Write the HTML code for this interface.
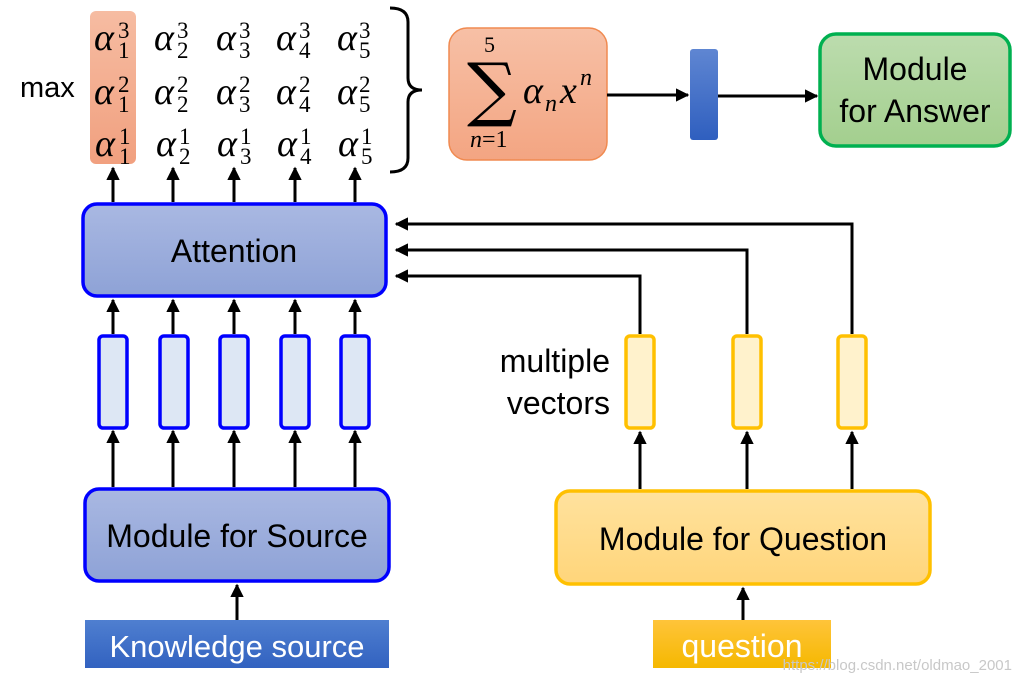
<!DOCTYPE html>
<html><head><meta charset="utf-8"><style>
html,body{margin:0;padding:0;background:#fff;}
svg{display:block;}
.t{font-family:"Liberation Sans",sans-serif;}
.a{font-family:"Liberation Serif",serif;font-style:italic;font-size:38px;}
.s{font-family:"Liberation Serif",serif;font-size:23px;}
</style></head><body>
<svg width="1021" height="686" viewBox="0 0 1021 686" xmlns="http://www.w3.org/2000/svg">
<defs>
<marker id="ar" viewBox="0 0 10 10" refX="9" refY="5" markerWidth="4.5" markerHeight="4.5" orient="auto"><path d="M0,0 L10,5 L0,10 z" fill="#000"/></marker>
<linearGradient id="gb" x1="0" y1="0" x2="0" y2="1"><stop offset="0" stop-color="#a9b8e2"/><stop offset="1" stop-color="#8ea2d6"/></linearGradient>
<linearGradient id="go" x1="0" y1="0" x2="0" y2="1"><stop offset="0" stop-color="#f7c0a6"/><stop offset="1" stop-color="#f3a582"/></linearGradient>
<linearGradient id="gg" x1="0" y1="0" x2="0" y2="1"><stop offset="0" stop-color="#bcdcae"/><stop offset="1" stop-color="#a3cf8e"/></linearGradient>
<linearGradient id="gy" x1="0" y1="0" x2="0" y2="1"><stop offset="0" stop-color="#ffe29e"/><stop offset="1" stop-color="#ffd57a"/></linearGradient>
<linearGradient id="gk" x1="0" y1="0" x2="0" y2="1"><stop offset="0" stop-color="#4f7fd0"/><stop offset="1" stop-color="#3262c0"/></linearGradient>
<linearGradient id="gq" x1="0" y1="0" x2="0" y2="1"><stop offset="0" stop-color="#ffc43a"/><stop offset="1" stop-color="#f5b800"/></linearGradient>
<linearGradient id="gbar" x1="0" y1="0" x2="0" y2="1"><stop offset="0" stop-color="#5f86d2"/><stop offset="1" stop-color="#2f5fbf"/></linearGradient>
<linearGradient id="gh" x1="0" y1="0" x2="0" y2="1"><stop offset="0" stop-color="#f6bca2"/><stop offset="1" stop-color="#f1a07f"/></linearGradient>
</defs>

<rect x="90" y="11" width="46" height="153" rx="6" fill="url(#gh)"/>
<text class="t" x="20" y="97" font-size="29">max</text>

<g class="a">
<text x="94" y="50">α</text><text x="154" y="50">α</text><text x="216" y="50">α</text><text x="276" y="50">α</text><text x="337" y="50">α</text>
<text x="94" y="104">α</text><text x="154" y="104">α</text><text x="216" y="104">α</text><text x="276" y="104">α</text><text x="337" y="104">α</text>
<text x="95" y="156">α</text><text x="156" y="156">α</text><text x="217" y="156">α</text><text x="277" y="156">α</text><text x="338" y="156">α</text>
</g>
<g class="s">
<text x="118" y="38">3</text><text x="177" y="38">3</text><text x="239" y="38">3</text><text x="299" y="38">3</text><text x="359" y="38">3</text>
<text x="118" y="58">1</text><text x="177" y="58">2</text><text x="239" y="58">3</text><text x="299" y="58">4</text><text x="359" y="58">5</text>
<text x="118" y="92">2</text><text x="177" y="92">2</text><text x="239" y="92">2</text><text x="299" y="92">2</text><text x="359" y="92">2</text>
<text x="118" y="112">1</text><text x="177" y="112">2</text><text x="239" y="112">3</text><text x="299" y="112">4</text><text x="359" y="112">5</text>
<text x="119" y="144">1</text><text x="179" y="144">1</text><text x="240" y="144">1</text><text x="300" y="144">1</text><text x="361" y="144">1</text>
<text x="119" y="164">1</text><text x="179" y="164">2</text><text x="240" y="164">3</text><text x="300" y="164">4</text><text x="361" y="164">5</text>
</g>
<path d="M390,8 Q408,8 408,22 L408,78 Q408,90 422,90 Q408,90 408,102 L408,158 Q408,172 390,172" fill="none" stroke="#000" stroke-width="3"/>

<rect x="449" y="28" width="158" height="132" rx="18" fill="url(#go)" stroke="#f08a50" stroke-width="1.5"/>
<text x="484" y="52" font-family="Liberation Serif,serif" font-size="22">5</text>
<text x="467" y="113" font-family="DejaVu Serif,serif" font-size="70">∑</text>
<text x="470" y="147" font-family="Liberation Serif,serif" font-style="italic" font-size="24">n<tspan font-style="normal">=1</tspan></text>
<text x="523" y="103" font-family="Liberation Serif,serif" font-style="italic" font-size="38">α</text>
<text x="545" y="111" font-family="Liberation Serif,serif" font-style="italic" font-size="24">n</text>
<text x="560" y="103" font-family="Liberation Serif,serif" font-style="italic" font-size="38">x</text>
<text x="580" y="85" font-family="Liberation Serif,serif" font-style="italic" font-size="24">n</text>

<line x1="607" y1="95" x2="688" y2="95" stroke="#000" stroke-width="3" marker-end="url(#ar)"/>
<rect x="690" y="49" width="28" height="91" rx="3" fill="url(#gbar)"/>
<line x1="718" y1="96" x2="817" y2="96" stroke="#000" stroke-width="3" marker-end="url(#ar)"/>
<rect x="820" y="34" width="190" height="112" rx="16" fill="url(#gg)" stroke="#00b050" stroke-width="3.5"/>
<text class="t" x="915" y="80" font-size="32" text-anchor="middle">Module</text>
<text class="t" x="915" y="122" font-size="32" text-anchor="middle">for Answer</text>

<g stroke="#000" stroke-width="3" marker-end="url(#ar)">
<line x1="113" y1="202" x2="113" y2="168"/>
<line x1="173" y1="202" x2="173" y2="168"/>
<line x1="234" y1="202" x2="234" y2="168"/>
<line x1="295" y1="202" x2="295" y2="168"/>
<line x1="355" y1="202" x2="355" y2="168"/>
</g>

<rect x="83" y="204" width="303" height="92" rx="14" fill="url(#gb)" stroke="#0000ff" stroke-width="3.5"/>
<text class="t" x="234" y="262" font-size="32" text-anchor="middle">Attention</text>

<g fill="#dde7f4" stroke="#0000ff" stroke-width="3.5">
<rect x="99" y="336" width="28" height="92" rx="4"/>
<rect x="160" y="336" width="28" height="92" rx="4"/>
<rect x="220" y="336" width="28" height="92" rx="4"/>
<rect x="281" y="336" width="28" height="92" rx="4"/>
<rect x="341" y="336" width="28" height="92" rx="4"/>
</g>
<g stroke="#000" stroke-width="3" marker-end="url(#ar)">
<line x1="113" y1="334" x2="113" y2="300"/>
<line x1="173" y1="334" x2="173" y2="300"/>
<line x1="234" y1="334" x2="234" y2="300"/>
<line x1="295" y1="334" x2="295" y2="300"/>
<line x1="355" y1="334" x2="355" y2="300"/>
<line x1="113" y1="487" x2="113" y2="431"/>
<line x1="173" y1="487" x2="173" y2="431"/>
<line x1="234" y1="487" x2="234" y2="431"/>
<line x1="295" y1="487" x2="295" y2="431"/>
<line x1="355" y1="487" x2="355" y2="431"/>
<line x1="237" y1="620" x2="237" y2="585"/>
<line x1="743" y1="620" x2="743" y2="588"/>
<line x1="640" y1="489" x2="640" y2="432"/>
<line x1="747" y1="489" x2="747" y2="432"/>
<line x1="852" y1="489" x2="852" y2="432"/>
</g>

<rect x="85" y="489" width="304" height="92" rx="14" fill="url(#gb)" stroke="#0000ff" stroke-width="3.5"/>
<text class="t" x="237" y="547" font-size="32" text-anchor="middle">Module for Source</text>
<rect x="85" y="620" width="304" height="48" fill="url(#gk)"/>
<text class="t" x="237" y="657" font-size="31" fill="#fff" text-anchor="middle">Knowledge source</text>

<g fill="none" stroke="#000" stroke-width="3">
<polyline points="640,334 640,276 396,276" marker-end="url(#ar)"/>
<polyline points="747,334 747,250 396,250" marker-end="url(#ar)"/>
<polyline points="852,334 852,224 396,224" marker-end="url(#ar)"/>
</g>
<g fill="#fff2cc" stroke="#ffc000" stroke-width="3.5">
<rect x="626" y="336" width="28" height="92" rx="4"/>
<rect x="733" y="336" width="28" height="92" rx="4"/>
<rect x="838" y="336" width="28" height="92" rx="4"/>
</g>
<text class="t" x="610" y="372" font-size="32" text-anchor="end">multiple</text>
<text class="t" x="610" y="414" font-size="32" text-anchor="end">vectors</text>

<rect x="556" y="491" width="374" height="93" rx="14" fill="url(#gy)" stroke="#ffc000" stroke-width="3.5"/>
<text class="t" x="743" y="550" font-size="32" text-anchor="middle">Module for Question</text>
<rect x="653" y="620" width="178" height="48" fill="url(#gq)"/>
<text class="t" x="742" y="657" font-size="32" fill="#fff" text-anchor="middle">question</text>
<text class="t" x="1012" y="670" font-size="15" fill="#c8c8c8" text-anchor="end">https://blog.csdn.net/oldmao_2001</text>
</svg>
</body></html>
